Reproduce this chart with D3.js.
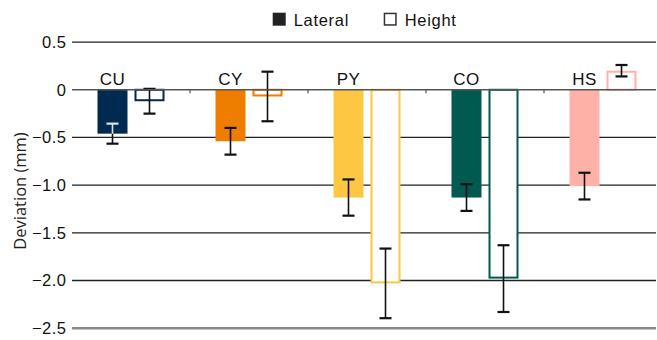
<!DOCTYPE html>
<html>
<head>
<meta charset="utf-8">
<script src="https://cdn.jsdelivr.net/npm/d3@7"></script>
<style>
  body { margin: 0; background: #fff; }
  svg { display: block; font-family: "Liberation Sans", Arial, sans-serif; }
</style>
</head>
<body>
<div id="chart"></div>
<script>
// data
const categories = ["CU", "CY", "PY", "CO", "HS"];
const series = ["Lateral", "Height"];
const lateralMean = [-0.46, -0.54, -1.13, -1.13, -1.01];
const lateralErr = [0.105, 0.14, 0.19, 0.14, 0.14];
const heightMean = [-0.12, -0.07, -2.03, -1.98, 0.2];
const heightErr = [0.13, 0.26, 0.365, 0.35, 0.06];
const yTicks = [0.5, 0, -0.5, -1.0, -1.5, -2.0, -2.5];

const colors = { CU: "#002a4f", CY: "#ef7d00", PY: "#fdc643", CO: "#005a4f", HS: "#ffb1a8" };
// error bar colour where it runs inside a dark filled bar
const insideErr = { CU: "#dde2e8" };

const width = 657, height = 340;
const plot = { left: 72, right: 662, top: 42.1, bottom: 328.2 };

const svg = d3.select("#chart").append("svg")
    .attr("width", width)
    .attr("height", height);

const x = d3.scaleBand()
    .domain(categories)
    .range([plot.left, plot.right]);

const xSub = d3.scaleBand()
    .domain(series)
    .range([0, x.bandwidth()])
    .paddingInner(7 / 37)
    .paddingOuter(0.689);

const y = d3.scaleLinear()
    .domain([-2.5, 0.5])
    .range([plot.bottom, plot.top]);

const fmt = (d) => (d === 0 ? "0" : d3.format(".1f")(d));

// grid lines
svg.append("g")
    .selectAll("line")
    .data(yTicks.filter((d) => d !== 0 && d !== -2.5))
    .join("line")
    .attr("x1", plot.left)
    .attr("x2", width - 1)
    .attr("y1", (d) => y(d))
    .attr("y2", (d) => y(d))
    .attr("stroke", "#222")
    .attr("stroke-width", 1.3);

svg.append("line")
    .attr("x1", plot.left)
    .attr("x2", width - 1)
    .attr("y1", y(-2.5))
    .attr("y2", y(-2.5))
    .attr("stroke", "#8a8a8a")
    .attr("stroke-width", 2.6);

// tick labels
svg.append("g")
    .selectAll("text")
    .data(yTicks)
    .join("text")
    .attr("x", 66.5)
    .attr("y", (d) => y(d) + 5.8)
    .attr("text-anchor", "end")
    .attr("font-size", 16.5)
    .attr("letter-spacing", 0.5)
    .attr("fill", "#111")
    .text(fmt);

svg.append("text")
    .attr("transform", `translate(26, 191) rotate(-90)`)
    .attr("text-anchor", "middle")
    .attr("font-family", "'Open Sans', sans-serif")
    .attr("font-size", 16.5)
    .attr("fill", "#222")
    .text("Deviation (mm)");

// bars
const rows = categories.map((c, i) => ({
    cat: c,
    values: [
        { key: "Lateral", mean: lateralMean[i], err: lateralErr[i] },
        { key: "Height", mean: heightMean[i], err: heightErr[i] }
    ]
}));

const groups = svg.append("g")
    .selectAll("g")
    .data(rows)
    .join("g")
    .attr("transform", (d) => `translate(${x(d.cat)},0)`);

groups.selectAll("rect")
    .data((d) => d.values.map((v) => ({ ...v, cat: d.cat })))
    .join("rect")
    .attr("x", (d) => xSub(d.key) + (d.key === "Height" ? 1 : 0))
    .attr("width", (d) => xSub.bandwidth() - (d.key === "Height" ? 2 : 0))
    .attr("y", (d) => y(Math.max(0, d.mean)) + (d.key === "Height" ? (d.mean > 0 ? 1 : 0) : 0))
    .attr("height", (d) => Math.abs(y(d.mean) - y(0)) - (d.key === "Height" ? 1 : 0))
    .attr("fill", (d) => (d.key === "Lateral" ? colors[d.cat] : "#fff"))
    .attr("stroke", (d) => (d.key === "Lateral" ? "none" : colors[d.cat]))
    .attr("stroke-width", 2);

// zero line with small ticks at group boundaries
svg.append("line")
    .attr("x1", plot.left)
    .attr("x2", width - 1)
    .attr("y1", y(0))
    .attr("y2", y(0))
    .attr("stroke", "#555")
    .attr("stroke-width", 1.5);

svg.append("g")
    .selectAll("line")
    .data(categories.slice(1))
    .join("line")
    .attr("x1", (d) => x(d))
    .attr("x2", (d) => x(d))
    .attr("y1", y(0))
    .attr("y2", y(0) + 3.5)
    .attr("stroke", "#555")
    .attr("stroke-width", 1.2);

// error bars
groups.each(function (row) {
    const g = d3.select(this);
    row.values.forEach((v) => {
        const cx = xSub(v.key) + xSub.bandwidth() / 2;
        const lo = v.mean - v.err, hi = v.mean + v.err;
        const seg = (a, b, col) => g.append("line")
            .attr("x1", cx).attr("x2", cx)
            .attr("y1", y(a)).attr("y2", y(b))
            .attr("stroke", col).attr("stroke-width", 1.6);
        const cap = (val, col) => g.append("line")
            .attr("x1", cx - 6).attr("x2", cx + 6)
            .attr("y1", y(val)).attr("y2", y(val))
            .attr("stroke", col).attr("stroke-width", 2.2);
        const inCol = v.key === "Lateral" && insideErr[row.cat];
        if (inCol) {
            // part that lies inside the filled bar is drawn light
            const barLo = Math.min(0, v.mean), barHi = Math.max(0, v.mean);
            const inLo = Math.max(lo, barLo), inHi = Math.min(hi, barHi);
            seg(lo, inLo, "#111");
            seg(inLo, inHi, inCol);
            if (hi < barHi) seg(inHi, hi, inCol); else seg(inHi, hi, "#111");
            cap(lo, lo >= barLo && lo <= barHi ? inCol : "#111");
            cap(hi, hi >= barLo && hi <= barHi ? inCol : "#111");
        } else {
            seg(lo, hi, "#111");
            cap(lo, "#111");
            cap(hi, "#111");
        }
    });
});

// category labels above the lateral bars
groups.append("text")
    .attr("x", xSub("Lateral") + xSub.bandwidth() / 2)
    .attr("y", 85)
    .attr("text-anchor", "middle")
    .attr("font-size", 17)
    .attr("letter-spacing", 0.5)
    .attr("fill", "#111")
    .text((d) => d.cat);

// legend
const legend = svg.append("g");
const legendX = [272.7, 383.7];
series.forEach((s, i) => {
    legend.append("rect")
        .attr("x", legendX[i] + (i === 1 ? 0.75 : 0))
        .attr("y", 12.7 + (i === 1 ? 0.75 : 0))
        .attr("width", 13 - (i === 1 ? 1.5 : 0))
        .attr("height", 13 - (i === 1 ? 1.5 : 0))
        .attr("fill", i === 0 ? "#222" : "#fff")
        .attr("stroke", i === 0 ? "none" : "#333")
        .attr("stroke-width", 1.5);
    legend.append("text")
        .attr("x", legendX[i] + 21)
        .attr("y", 26)
        .attr("font-size", 16.5)
        .attr("letter-spacing", 0.7)
        .attr("fill", "#111")
        .text(s);
});
</script>
</body>
</html>
